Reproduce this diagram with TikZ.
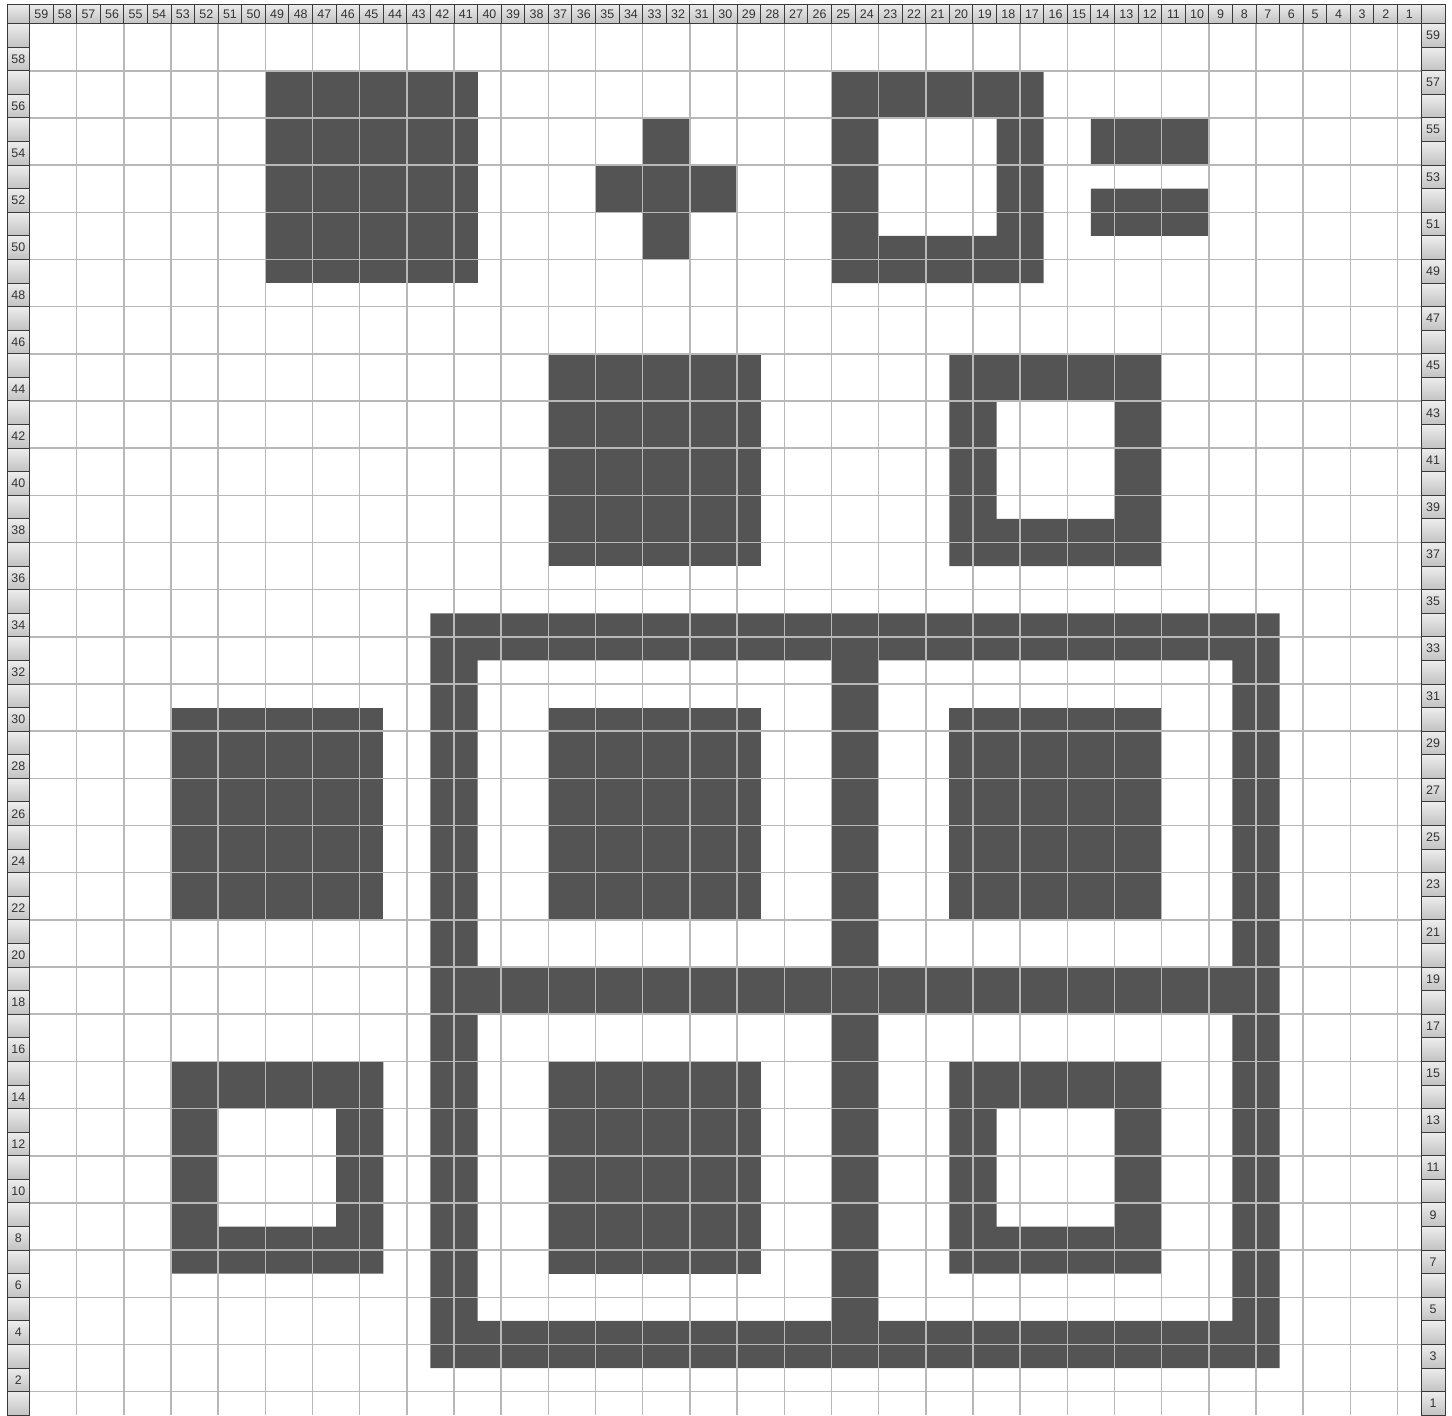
\documentclass[tikz,border=0pt]{standalone}
\usepackage{fontspec}
\setsansfont{Liberation Sans}
\usetikzlibrary{positioning}
\definecolor{inkgray}{HTML}{545454}
\definecolor{gridgray}{HTML}{B8B8B8}
\definecolor{headtop}{HTML}{EDEDED}
\definecolor{headbot}{HTML}{C2C2C2}
\definecolor{headline}{HTML}{3A3A3A}

\begin{document}
\begin{tikzpicture}[
  x=0.5cm, y=0.5cm,
  ink/.style={fill=inkgray},
  gridline/.style={draw=gridgray, line width=0.9pt},
  headcell/.style={draw=headline, line width=0.6pt, top color=headtop, bottom color=headbot, inner sep=0pt, outer sep=0pt, font=\sffamily\fontsize{7.5}{8}\selectfont, text=black!80},
  colhead/.style={headcell, minimum width=0.5cm, minimum height=0.415cm},
  rowhead/.style={headcell, minimum width=0.475cm, minimum height=0.5cm}
]
\useasboundingbox (-1.25,1) rectangle (60.31,-59);

% solid blocks
\foreach \x/\y in {10/2,22/14,22/29,39/29,6/29,22/44}
  \fill[ink] (\x,-\y) rectangle ++(9,-9);
% hollow blocks
\foreach \x/\y in {34/2,39/14,39/44,6/44}
  \fill[ink, even odd rule] (\x,-\y) rectangle ++(9,-9) ({\x+2},{-\y-2}) rectangle ++(5,-5);
% plus and equals
\fill[ink] (26,-4) rectangle (28,-10) (24,-6) rectangle (30,-8);
\fill[ink] (45,-4) rectangle (50,-6) (45,-7) rectangle (50,-9);
% big window frame
\fill[ink, even odd rule] (17,-25) rectangle (53,-57)
  (19,-27) rectangle (34,-40) (36,-27) rectangle (51,-40)
  (19,-42) rectangle (34,-55) (36,-42) rectangle (51,-55);

% grid
\draw[gridline] (0,0) grid (59,-59);

% column headers
\node[headcell, minimum width=0.475cm, minimum height=0.415cm] (cornerL) at (-0.475,0.415) {};
\node[headcell, minimum width=0.51cm, minimum height=0.415cm] (cornerR) at (59.51,0.415) {};
\foreach \i [evaluate=\i as \lab using int(59-\i)] in {0,...,58}
  \node[colhead] (col\lab) at (\i+0.5,0.415) {\lab};

% row headers
\foreach \j [evaluate=\j as \lab using int(59-\j)] in {0,...,58} {
  \node[rowhead] (rowL\lab) at (-0.475,-\j-0.5) {\ifodd\lab\relax\else\lab\fi};
  \node[rowhead, minimum width=0.51cm] (rowR\lab) at (59.51,-\j-0.5) {\ifodd\lab\relax\lab\fi};
}
\end{tikzpicture}
\end{document}
